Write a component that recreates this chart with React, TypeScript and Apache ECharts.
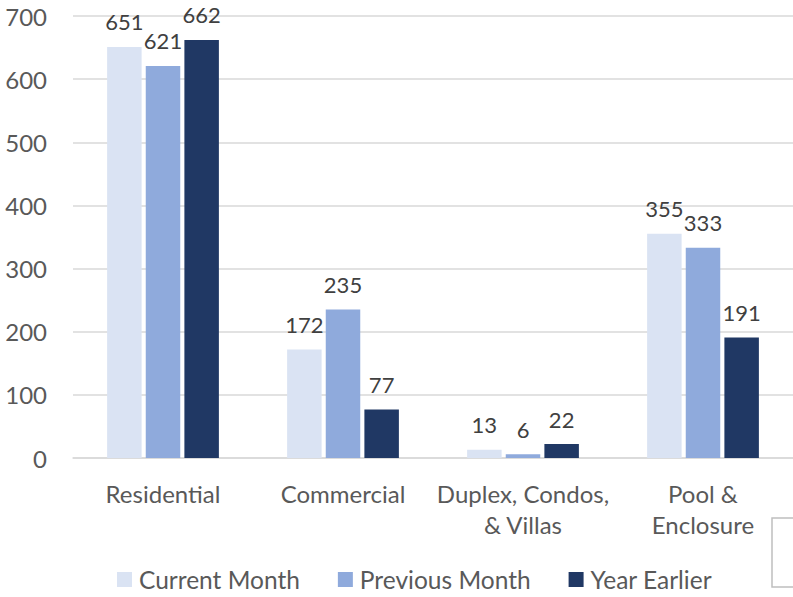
import React, { useEffect, useRef } from "react";
import * as echarts from "echarts";

const categories = ["Residential", "Commercial", "Duplex, Condos,\n& Villas", "Pool &\nEnclosure"];
const seriesNames = ["Current Month", "Previous Month", "Year Earlier"];
const currentMonth = [651, 172, 13, 355];
const previousMonth = [621, 235, 6, 333];
const yearEarlier = [662, 77, 22, 191];
const colors = ["#dae3f3", "#8faadc", "#203864"];

const FONT = "Lato";

export default function App() {
  const ref = useRef<HTMLDivElement>(null);
  useEffect(() => {
    if (!ref.current) return;
    const chart = echarts.init(ref.current, null, { renderer: "svg" });
    const data = [currentMonth, previousMonth, yearEarlier];
    chart.setOption({
      animation: false,
      textStyle: { fontFamily: FONT },
      grid: { left: 73, right: -7, top: 16, bottom: 139, containLabel: false },
      legend: {
        top: 567,
        left: 117,
        padding: 0,
        itemWidth: 15,
        itemHeight: 15,
        itemGap: 38,
        icon: "rect",
        textStyle: { fontFamily: FONT, fontSize: 24.5, color: "#595959", padding: [0, 0, 0, 2] },
        data: seriesNames,
      },
      xAxis: {
        type: "category",
        data: categories,
        axisLine: { show: true, lineStyle: { color: "#d9d9d9", width: 1.5 } },
        axisTick: { show: false },
        axisLabel: { interval: 0, fontFamily: FONT, fontSize: 24, color: "#595959", margin: 20, lineHeight: 31 },
      },
      yAxis: {
        type: "value",
        min: 0,
        max: 700,
        interval: 100,
        axisLine: { show: false },
        axisTick: { show: false },
        splitLine: { lineStyle: { color: "#d9d9d9", width: 1.5 } },
        axisLabel: { fontFamily: FONT, fontSize: 24, color: "#595959", margin: 26 },
      },
      series: seriesNames.map((name, i) => ({
        name,
        type: "bar",
        data: data[i],
        barWidth: 34.5,
        barGap: "12%",
        itemStyle: { color: colors[i] },
        label: {
          show: true,
          position: "top",
          distance: 14,
          fontFamily: FONT,
          fontSize: 22,
          color: "#404040",
        },
      })),
      graphic: [
        {
          type: "rect",
          shape: { x: 772, y: 518, width: 40, height: 69 },
          style: { fill: "none", stroke: "#bfbfbf", lineWidth: 1.5 },
        },
      ],
    });
    return () => chart.dispose();
  }, []);
  return <div ref={ref} style={{ width: 793, height: 597, position: "absolute", left: 0, top: 0 }} />;
}
